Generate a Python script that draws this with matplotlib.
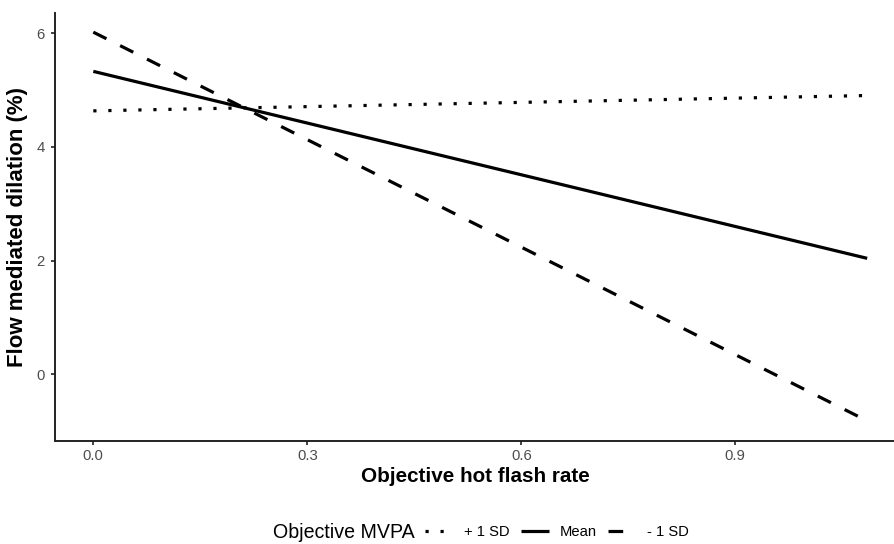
import matplotlib
matplotlib.use("Agg")
import matplotlib.pyplot as plt

plt.rcParams['font.family'] = ['Liberation Sans', 'DejaVu Sans']

# Data
x_vals = [0.0, 1.085]
plus_sd = [4.635, 4.905]
mean_vals = [5.33, 2.04]
minus_sd = [6.02, -0.82]
series_labels = ["+ 1 SD", "Mean", "- 1 SD"]
legend_title = "Objective MVPA"
x_ticks = [0.0, 0.3, 0.6, 0.9]
x_ticklabels = ["0.0", "0.3", "0.6", "0.9"]
y_ticks = [0, 2, 4, 6]
y_ticklabels = ["0", "2", "4", "6"]

W, H = 895, 544
fig = plt.figure(figsize=(W / 100, H / 100), dpi=100)
ax = fig.add_axes([55 / W, (H - 441) / H, 1 - 55 / W, (441 - 13) / H])

lw = 2.3
l1, = ax.plot(x_vals, plus_sd, color='black', lw=lw, dashes=(1.0, 3.7),
              solid_capstyle='butt', dash_capstyle='butt')
l2, = ax.plot(x_vals, mean_vals, color='black', lw=lw, solid_capstyle='butt')
l3, = ax.plot(x_vals, minus_sd, color='black', lw=lw, dashes=(4.6, 4.8),
              dash_capstyle='butt')

ax.set_xlim(-0.0537, 1.124)
ax.set_ylim(-1.174, 6.357)
ax.set_xticks(x_ticks)
ax.set_xticklabels(x_ticklabels)
ax.set_yticks(y_ticks)
ax.set_yticklabels(y_ticklabels)

for s in ['top', 'right']:
    ax.spines[s].set_visible(False)
for s in ['left', 'bottom']:
    ax.spines[s].set_color('#222222')
    ax.spines[s].set_linewidth(1.4)

ax.tick_params(axis='both', length=3.2, width=1.3, color='#333333',
               labelcolor='#4D4D4D', labelsize=10.7)
ax.tick_params(axis='x', pad=2.5)
ax.tick_params(axis='y', pad=4)

ax.set_xlabel("Objective hot flash rate", fontsize=14.9, fontweight='bold',
              labelpad=3)
ax.set_ylabel("Flow mediated dilation (%)", fontsize=16.0, fontweight='bold',
              labelpad=6)

# Legend
fig.text(273 / W, (H - 532) / H, legend_title, fontsize=14.1,
         ha='left', va='center', color='black')
leg = fig.legend([l1, l2, l3], series_labels, loc='center left',
                 bbox_to_anchor=(418 / W, (H - 532) / H), ncol=3,
                 frameon=False, fontsize=10.6, borderpad=0,
                 handlelength=1.9, handletextpad=0.75, columnspacing=0.75)

fig.savefig("out.png", dpi=100)
